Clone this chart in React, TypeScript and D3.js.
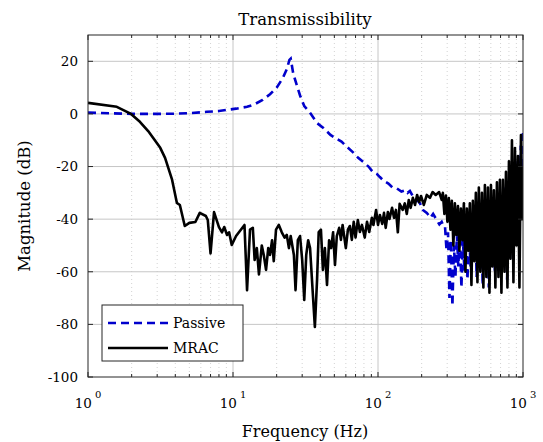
import React from "react";
import { scaleLog, scaleLinear, line } from "d3";

const width = 543;
const height = 442;
const margin = { top: 35, right: 20, bottom: 65, left: 88 };
const innerWidth = 523 - margin.left;
const innerHeight = 377 - margin.top;

// Passive response (Hz, dB)
const passiveFreq = [
  1, 1.5, 2, 3, 4, 5, 6.6, 8, 9, 10.5, 12.5, 14, 16, 18, 20, 22, 23.5, 24.5, 25, 26, 27.5, 29, 31, 34,
  38, 42, 47, 52, 56, 61, 67, 73, 80, 86, 92, 98, 103, 110, 118, 126, 135, 145, 155, 160, 166, 175,
  185, 195, 204, 217, 230, 240, 255, 265, 275, 285,
  290, 297, 304, 311, 318, 326, 334, 342, 350, 358, 367, 376, 385, 395, 404, 414, 424, 435, 445, 456,
  467, 479, 490, 502, 515, 527, 540, 553, 567, 581, 595, 610, 625, 640, 656, 672, 688, 705, 723, 740,
  758, 777, 796, 816, 836, 856, 877, 899, 921, 943, 966, 985, 1000
];
const passiveMag = [
  0.5, 0.2, 0, 0, 0.1, 0.3, 0.8, 1.1, 1.5, 2, 2.7, 3.6, 5.3, 7.5, 10, 13.5, 17, 20.5, 21, 15.5, 11, 7, 3,
  0.4, -3.5, -5.3, -8, -9.5, -10.5, -12.5, -14.5, -16.7, -18.5, -20, -22, -22.8, -24, -25.5, -26.5, -28,
  -28.3, -29.5, -29, -30, -29.3, -31.5, -32.5, -34, -36.5, -37.6, -39.5, -38, -40.5, -42, -41, -43,
  -43, -52, -45, -70, -48, -73, -50, -62, -46, -58, -44, -66, -48, -60, -42, -63, -45, -58, -40, -55,
  -38, -62, -42, -56, -36, -65, -40, -50, -35, -66, -38, -52, -34, -60, -36, -48, -30, -58, -33, -52,
  -28, -63, -32, -48, -22, -55, -25, -45, -18, -50, -12, -30, -6
];

// MRAC response (Hz, dB)
const mracFreq = [
  1, 1.58, 1.98, 2.28, 2.6, 3.15, 3.4, 3.8, 4.1, 4.3, 4.65, 5.0, 5.5, 5.9, 6.5, 6.7, 7.0, 7.4, 8.0, 8.4,
  8.7, 9.1, 9.4, 9.8, 10.5, 12, 12.5, 13.1, 13.7, 14.1, 14.6, 15.1, 15.8, 16.3, 16.9, 17.5, 18, 18.6,
  19.1, 19.8, 20.7, 21.7, 22.7, 23.5, 24.3, 25, 26.3, 27, 28, 29, 30, 31, 32, 33, 34, 35.6, 36.7, 38,
  39, 40.4, 41.7, 43, 44.5, 46, 47.5, 49, 50.5, 52, 54, 55.5, 57, 60, 62, 64, 66, 68, 70, 72.6, 75,
  77.5, 81, 84, 87, 90.7, 93, 97, 100, 103, 107, 110, 113, 117, 120, 125, 129, 133, 137, 141, 148,
  153, 158, 163, 168, 174, 180, 186, 192, 198, 207, 217, 228, 238, 250, 264, 275,
  280, 287, 294, 301, 308, 316, 323, 331, 339, 347, 356, 364, 373, 382, 391, 401, 410, 420, 430, 441,
  451, 462, 473, 485, 496, 508, 521, 533, 546, 559, 573, 587, 601, 615, 630, 645, 661, 677, 693, 710,
  727, 745, 763, 781, 800, 819, 839, 859, 880, 901, 923, 945, 968, 985, 1000
];
const mracMag = [
  4.2, 2.7, 0, -3, -6.5, -12.9, -16.7, -25, -33.8, -34.6, -42.6, -41.4, -41.1, -37.6, -38.8, -40.3, -53,
  -37.3, -43, -45, -43, -46, -45, -49.8, -46.4, -42.2, -67, -44, -43.3, -55.5, -51, -61, -50, -53.6,
  -59.3, -51, -53.6, -48, -56, -44, -42.2, -45, -47, -46, -51, -46.4, -53.6, -67, -48, -46.4, -55.5,
  -70.7, -53.6, -48, -51, -69.2, -81, -63, -44.9, -44, -59.3, -51, -65, -48, -51, -45, -57.4, -46.4,
  -43.3, -47.9, -42.2, -51, -44, -42.6, -47.9, -41, -47, -40.3, -44.9, -42.2, -47, -41, -44.9, -39.5,
  -42.2, -36.5, -42.2, -38.4, -41.8, -37.6, -43.3, -37.3, -39.9, -35.7, -39.5, -36.5, -45, -34.2,
  -36.5, -34, -38, -32.7, -35.7, -31.9, -34.6, -30.8, -33.5, -31.2, -34.6, -30.8, -31.9, -29.7, -30.8,
  -29.7, -32.7,
  -30, -38, -31, -41, -32, -44, -33, -50, -34, -46, -35, -52, -36, -48, -34, -60, -36, -52, -34, -65,
  -33, -56, -30, -64, -28, -60, -30, -66, -27, -62, -28, -68, -27, -58, -29, -66, -26, -62, -25, -68,
  -25, -60, -22, -66, -18, -55, -10, -64, -13, -50, -16, -66, -8, -40, -20
];

const yTicks = [20, 0, -20, -40, -60, -80, -100];
const xDecades = [1, 10, 100, 1000];
const xExponents = ["0", "1", "2", "3"];

const font = "DejaVu Serif, serif";

export default function App() {
  const x = scaleLog().domain([1, 1000]).range([0, innerWidth]);
  const y = scaleLinear().domain([-100, 30]).range([innerHeight, 0]);

  const minor: number[] = [];
  [1, 10, 100].forEach((d) => {
    for (let k = 2; k <= 9; k++) minor.push(d * k);
  });

  const path = (fs: number[], ms: number[]) =>
    line<number>()
      .x((_, i) => x(fs[i]))
      .y((m) => y(m))(ms) || "";

  return (
    <>
      <style>{`body{margin:0}`}</style>
      <svg width={width} height={height} style={{ display: "block", background: "#fff", fontFamily: font }}>
        <defs>
          <clipPath id="plot">
            <rect width={innerWidth} height={innerHeight} />
          </clipPath>
        </defs>
        <text x={305} y={25} textAnchor="middle" fontSize={16.5}>Transmissibility</text>
        <g transform={`translate(${margin.left}, ${margin.top})`}>
          {/* minor grid */}
          {minor.map((v) => (
            <line key={"m" + v} x1={x(v)} x2={x(v)} y1={0} y2={innerHeight} stroke="#c8c8c8" strokeWidth={0.8} strokeDasharray="1,3" />
          ))}
          {/* major grid */}
          {xDecades.slice(1, 3).map((v) => (
            <line key={"M" + v} x1={x(v)} x2={x(v)} y1={0} y2={innerHeight} stroke="#c6c6c6" strokeWidth={1} />
          ))}
          {yTicks.slice(0, 6).map((v) => (
            <line key={"h" + v} x1={0} x2={innerWidth} y1={y(v)} y2={y(v)} stroke="#c6c6c6" strokeWidth={1} />
          ))}

          <g clipPath="url(#plot)">
            <path d={path(passiveFreq, passiveMag)} fill="none" stroke="#0000cc" strokeWidth={2.6} strokeDasharray="8,5" />
            <path d={path(mracFreq, mracMag)} fill="none" stroke="#000" strokeWidth={2.6} strokeLinejoin="round" />
          </g>

          {/* axes box and ticks */}
          <rect width={innerWidth} height={innerHeight} fill="none" stroke="#262626" strokeWidth={1} />
          {yTicks.map((v) => (
            <g key={"yt" + v} transform={`translate(0, ${y(v)})`}>
              <line x2={5} stroke="#262626" />
              <line x1={innerWidth} x2={innerWidth - 5} stroke="#262626" />
              <text x={-10} dy="0.35em" textAnchor="end" fontSize={13.5}>{v}</text>
            </g>
          ))}
          {minor.map((v) => (
            <g key={"xt" + v} transform={`translate(${x(v)}, 0)`}>
              <line y2={3} stroke="#262626" />
              <line y1={innerHeight} y2={innerHeight - 3} stroke="#262626" />
            </g>
          ))}
          {xDecades.map((v, i) => (
            <g key={"xd" + v} transform={`translate(${x(v)}, 0)`}>
              <line y2={5} stroke="#262626" />
              <line y1={innerHeight} y2={innerHeight - 5} stroke="#262626" />
              <text y={innerHeight + 31} textAnchor="middle" fontSize={13.5}>
                <tspan>10</tspan>
                <tspan dx={3} dy={-10} fontSize={10}>{xExponents[i]}</tspan>
              </text>
            </g>
          ))}

          {/* legend */}
          <g transform="translate(14, 270)">
            <rect width={141} height={56} fill="#fff" stroke="#262626" strokeWidth={1} />
            <line x1={6} x2={66} y1={18} y2={18} stroke="#0000cc" strokeWidth={2.6} strokeDasharray="8,5" />
            <text x={71} y={18} dy="0.35em" fontSize={14}>Passive</text>
            <line x1={6} x2={66} y1={43} y2={43} stroke="#000" strokeWidth={2.6} />
            <text x={71} y={43} dy="0.35em" fontSize={14}>MRAC</text>
          </g>
        </g>
        <text x={305} y={437} textAnchor="middle" fontSize={16}>Frequency (Hz)</text>
        <text transform="translate(30, 206) rotate(-90)" textAnchor="middle" fontSize={16.5}>Magnitude (dB)</text>
      </svg>
    </>
  );
}
